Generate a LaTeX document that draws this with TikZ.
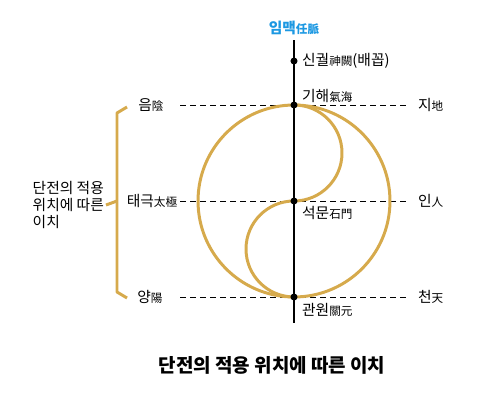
\documentclass[tikz,border=0pt]{standalone}
\usepackage{fontspec}
\setmainfont{Noto Sans CJK KR}
\usetikzlibrary{positioning}
\definecolor{dantan}{RGB}{214,170,76}
\definecolor{imaek}{RGB}{28,152,226}
\newcommand{\hanja}[1]{{\fontsize{6.6}{7.5}\selectfont #1}}
\tikzset{
  guide/.style={black, line width=0.55pt, dash pattern=on 3.4pt off 2.3pt},
  gold/.style={dantan, line width=1.7pt},
  pointdot/.style={circle, fill=black, inner sep=0pt, minimum size=4pt},
  lbl/.style={inner sep=1pt}
}
\begin{document}
\begin{tikzpicture}[x=0.02cm, y=0.02cm, font=\fontsize{8.4}{9.5}\selectfont]
\useasboundingbox (0,0) rectangle (500,-409);

% points on the meridian
\coordinate (top) at (294,-40);
\coordinate (bot) at (294,-323);
\coordinate (singwol) at (294,-61);
\coordinate (gihae) at (294,-105);
\coordinate (seokmun) at (294,-201);
\coordinate (gwanwon) at (294,-297);

% dashed levels
\coordinate (eumL) at (180,-105);   \coordinate (eumR) at (410,-105);
\coordinate (taeL) at (180,-201);   \coordinate (taeR) at (410,-201);
\coordinate (yangL) at (180,-297);  \coordinate (yangR) at (410,-297);
\draw[guide] (eumL) -- (eumR);
\draw[guide] (taeL) -- (taeR);
\draw[guide] (yangL) -- (yangR);

% taegeuk
\draw[gold] (seokmun) circle (1.92cm);
\draw[gold] (gihae) arc[start angle=90, end angle=-90, radius=0.96cm]
  arc[start angle=90, end angle=270, radius=0.96cm];

\draw[black, line width=0.85pt] (top) -- (bot);
\foreach \p in {singwol, gihae, seokmun, gwanwon}
  \node[pointdot] at (\p) {};

\node[lbl, text=imaek, font=\fontsize{8.4}{9.5}\selectfont\bfseries] (imaekTxt) at (294,-28) {임맥\hanja{任脈}};
\node[lbl, anchor=west] (singwolTxt) at (300,-61) {신궐\hanja{神闕}(배꼽)};
\node[lbl, anchor=west] (gihaeTxt) at (300,-96) {기해\hanja{氣海}};
\node[lbl, anchor=west] (seokmunTxt) at (300,-213) {석문\hanja{石門}};
\node[lbl, anchor=west] (gwanwonTxt) at (300,-310) {관원\hanja{關元}};

\node[lbl] (eumTxt) at (151,-105) {음\hanja{陰}};
\node[lbl] (taeTxt) at (152,-201) {태극\hanja{太極}};
\node[lbl] (yangTxt) at (150,-297) {양\hanja{陽}};
\node[lbl, anchor=west] (jiTxt) at (416,-105) {지\hanja{地}};
\node[lbl, anchor=west] (inTxt) at (416,-201) {인\hanja{人}};
\node[lbl, anchor=west] (cheonTxt) at (416,-297) {천\hanja{天}};

% bracket
\coordinate (brTop) at (127,-107);
\coordinate (brBot) at (127,-298);
\coordinate (brMid) at (117,-201);
\draw[gold, line join=round] (brTop) -- (117,-113) -- (117,-292) -- (brBot);
\node[lbl, anchor=east, align=left] (reason) at (106,-205) {단전의 적용\\위치에 따른\\이치};
\draw[gold] (brMid) -- (reason.east);

\node[lbl, font=\fontsize{10.8}{12}\selectfont\bfseries] (caption) at (272,-365) {단전의 적용 위치에 따른 이치};
\end{tikzpicture}
\end{document}
